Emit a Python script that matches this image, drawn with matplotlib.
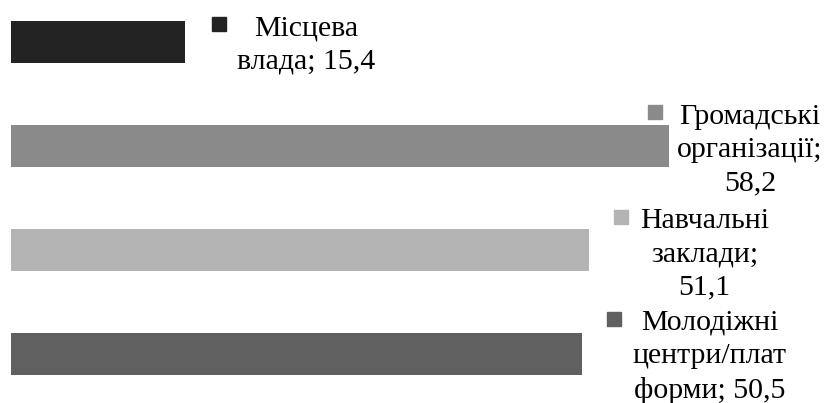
import matplotlib
matplotlib.use('Agg')
import matplotlib.pyplot as plt
from matplotlib.transforms import offset_copy

# дані
categories = ["Місцева\nвлада", "Громадські\nорганізації;", "Навчальні\nзаклади;", "Молодіжні\nцентри/плат\nформи"]
values = [15.4, 58.2, 51.1, 50.5]
colors = ['#232323', '#8a8a8a', '#b4b4b4', '#606060']

plt.rcParams['font.family'] = ['Liberation Serif', 'DejaVu Serif']
plt.rcParams['font.size'] = 21.5

fig = plt.figure(figsize=(8.27, 4.03), dpi=100)
ax = fig.add_axes([0, 0, 1, 1])

pos = list(range(len(values)))
ax.barh(pos, values, height=0.4, color=colors)

# зсуви підписів (px від кінця стовпця): текст (центр, базова лінія останнього рядка) і маркер
text_off = [(121.5, -27), (81, -44.7), (116, -45), (128, -43.7)]
mark_off = [(34, 17.7), (-14.5, 34.3), (32.7, 32.5), (32, 35)]

for i, (name, v) in enumerate(zip(categories, values)):
    num = str(v).replace('.', ',')
    if name.endswith(';'):
        label = name + '\n' + num
    else:
        label = name + '; ' + num
    dx, dy = text_off[i]
    ax.annotate(label, xy=(v, i), xytext=(dx * 0.72, dy * 0.72), textcoords='offset points',
                ha='center', va='baseline', multialignment='center', linespacing=1.36)
    mx, my = mark_off[i]
    tr = offset_copy(ax.transData, fig=fig, x=mx * 0.72, y=my * 0.72, units='points')
    ax.plot([v], [i], marker='s', markersize=10.5, color=colors[i], linestyle='none', transform=tr)

px = (669 - 11) / 58.2
ax.set_xlim(-11 / px, (827 - 11) / px)
ax.set_ylim((403 - 41.85) / 104, -41.85 / 104)
ax.axis('off')

plt.savefig('out.png', dpi=100)
plt.close()
